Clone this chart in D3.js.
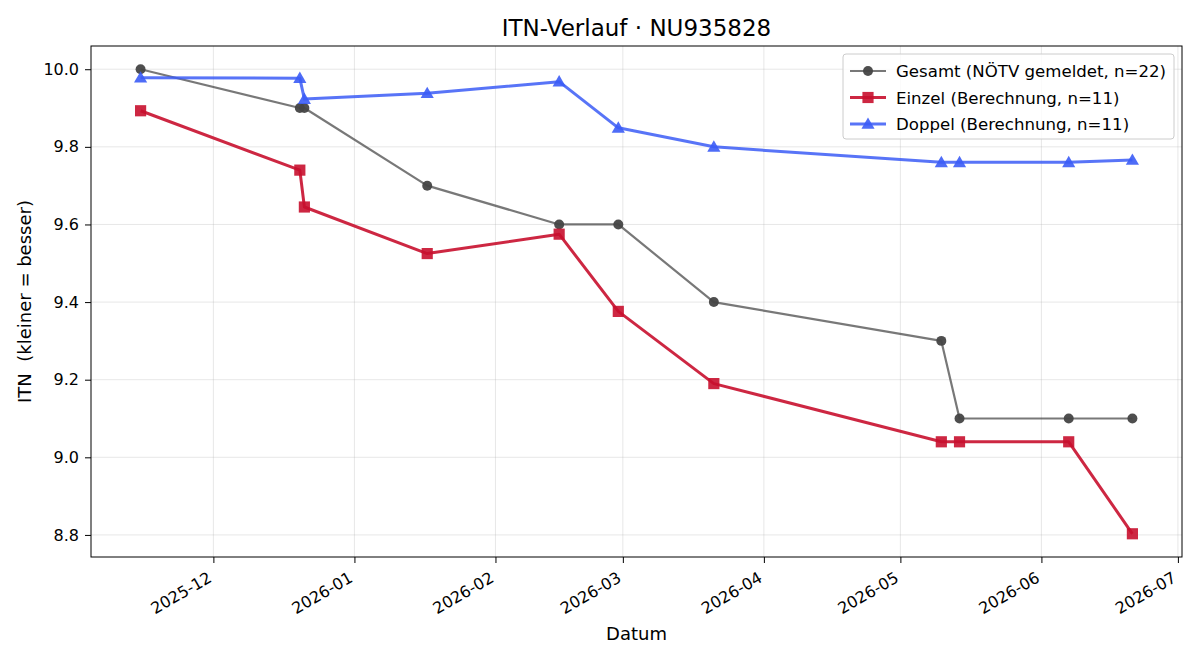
<!DOCTYPE html>
<html lang="de">
<head>
<meta charset="UTF-8">
<title>ITN-Verlauf</title>
<script src="https://d3js.org/d3.v7.min.js"></script>
<style>
    * { margin: 0; padding: 0; box-sizing: border-box; }
    body { background: #fff; font-family: "DejaVu Sans", sans-serif; }
    svg text { font-family: "DejaVu Sans", sans-serif; fill: #000; }
</style>
</head>
<body>
<div id="chart"></div>
<script>
    // Daten
    const dates = ["2025-11-15", "2025-12-20", "2025-12-21", "2026-01-17", "2026-02-15",
        "2026-02-28", "2026-03-21", "2026-05-10", "2026-05-14", "2026-06-07", "2026-06-21"];
    const gesamt = [10.0, 9.9, 9.9, 9.7, 9.6, 9.6, 9.4, 9.3, 9.1, 9.1, 9.1];
    const einzel = [9.893, 9.74, 9.645, 9.525, 9.575, 9.376, 9.19, 9.04, 9.04, 9.04, 8.803];
    const doppel = [9.978, 9.977, 9.923, 9.938, 9.968, 9.849, 9.80, 9.76, 9.76, 9.76, 9.766];
    const yTicks = [8.8, 9.0, 9.2, 9.4, 9.6, 9.8, 10.0];
    const xTicks = ["2025-12-01", "2026-01-01", "2026-02-01", "2026-03-01", "2026-04-01",
        "2026-05-01", "2026-06-01", "2026-07-01"];

    const series = [
        { name: "Gesamt (NÖTV gemeldet, n=22)", values: gesamt, line: "#444", lineOpacity: 0.72, lw: 2.2, marker: "circle", mColor: "#444", mOpacity: 0.95 },
        { name: "Einzel (Berechnung, n=11)", values: einzel, line: "#c8102e", lineOpacity: 0.9, lw: 3, marker: "square", mColor: "#c8102e", mOpacity: 0.9 },
        { name: "Doppel (Berechnung, n=11)", values: doppel, line: "#3b5cf6", lineOpacity: 0.85, lw: 3, marker: "triangle", mColor: "#3b5cf6", mOpacity: 0.9 }
    ];

    const W = 1200, H = 660;
    const margin = { top: 46, right: 18, bottom: 103, left: 91 };
    const iw = W - margin.left - margin.right;
    const ih = H - margin.top - margin.bottom;

    const parse = d3.utcParse("%Y-%m-%d");
    const xDates = dates.map(parse);

    // matplotlib-artige 5% Ränder
    const xExt = d3.extent(xDates);
    const xPad = (xExt[1] - xExt[0]) * 0.05;
    const x = d3.scaleUtc()
        .domain([new Date(+xExt[0] - xPad), new Date(+xExt[1] + xPad)])
        .range([0, iw]);

    const allY = gesamt.concat(einzel, doppel);
    const yExt = d3.extent(allY);
    const yPad = (yExt[1] - yExt[0]) * 0.05;
    const y = d3.scaleLinear().domain([yExt[0] - yPad, yExt[1] + yPad]).range([ih, 0]);

    const svg = d3.select("#chart").append("svg")
        .attr("width", W).attr("height", H);

    const g = svg.append("g").attr("transform", `translate(${margin.left},${margin.top})`);

    // Gitter
    g.append("g").selectAll("line").data(xTicks.map(parse)).join("line")
        .attr("x1", d => x(d)).attr("x2", d => x(d))
        .attr("y1", 0).attr("y2", ih)
        .attr("stroke", "#b0b0b0").attr("stroke-opacity", 0.3).attr("stroke-width", 1);
    g.append("g").selectAll("line").data(yTicks).join("line")
        .attr("x1", 0).attr("x2", iw)
        .attr("y1", d => y(d)).attr("y2", d => y(d))
        .attr("stroke", "#b0b0b0").attr("stroke-opacity", 0.3).attr("stroke-width", 1);

    // Achsen
    const xAxis = g.append("g").attr("transform", `translate(0,${ih})`)
        .call(d3.axisBottom(x).tickValues(xTicks.map(parse)).tickFormat(d3.utcFormat("%Y-%m")).tickSize(6).tickPadding(4));
    xAxis.select(".domain").remove();
    xAxis.selectAll("line").attr("stroke", "#000").attr("stroke-width", 1);
    xAxis.selectAll("text")
        .attr("font-size", "16px")
        .attr("text-anchor", "end")
        .attr("dy", "0")
        .attr("y", 0)
        .attr("transform", "translate(-1,24) rotate(-30)");

    const yAxis = g.append("g")
        .call(d3.axisLeft(y).tickValues(yTicks).tickFormat(d3.format(".1f")).tickSize(6).tickPadding(6));
    yAxis.select(".domain").remove();
    yAxis.selectAll("line").attr("stroke", "#000").attr("stroke-width", 1);
    yAxis.selectAll("text").attr("font-size", "16px");

    // Linien + Marker
    const line = d3.line().x((d, i) => x(xDates[i])).y(d => y(d));
    const sym = { circle: d3.symbolCircle, square: d3.symbolSquare, triangle: d3.symbolTriangle };
    const symSize = { circle: 78, square: 125, triangle: 75 };

    series.forEach(s => {
        g.append("path").datum(s.values)
            .attr("fill", "none")
            .attr("stroke", s.line).attr("stroke-opacity", s.lineOpacity)
            .attr("stroke-width", s.lw).attr("stroke-linejoin", "round")
            .attr("d", line);
        g.append("g").selectAll("path").data(s.values).join("path")
            .attr("transform", (d, i) => `translate(${x(xDates[i])},${y(d) + (s.marker === "triangle" ? 1 : 0)})`)
            .attr("d", d3.symbol().type(sym[s.marker]).size(symSize[s.marker]))
            .attr("fill", s.mColor).attr("fill-opacity", s.mOpacity);
    });

    // Rahmen
    g.append("rect").attr("width", iw).attr("height", ih)
        .attr("fill", "none").attr("stroke", "#000").attr("stroke-width", 1);

    // Titel und Achsenbeschriftung
    svg.append("text").attr("x", margin.left + iw / 2).attr("y", 36)
        .attr("text-anchor", "middle").attr("font-size", "23px")
        .text("ITN-Verlauf · NU935828");
    svg.append("text").attr("x", margin.left + iw / 2).attr("y", 640)
        .attr("text-anchor", "middle").attr("font-size", "18px")
        .text("Datum");
    svg.append("text")
        .attr("transform", `translate(31,${margin.top + ih / 2}) rotate(-90)`)
        .attr("text-anchor", "middle").attr("font-size", "18px")
        .style("white-space", "pre")
        .text("ITN  (kleiner = besser)");

    // Legende
    const leg = svg.append("g").attr("transform", "translate(843,54)");
    leg.append("rect").attr("width", 331).attr("height", 85).attr("rx", 3)
        .attr("fill", "#fff").attr("fill-opacity", 0.8)
        .attr("stroke", "#ccc").attr("stroke-width", 1);
    series.forEach((s, i) => {
        const ly = 17 + i * 26.5;
        leg.append("line").attr("x1", 7).attr("x2", 43).attr("y1", ly).attr("y2", ly)
            .attr("stroke", s.line).attr("stroke-opacity", s.lineOpacity).attr("stroke-width", s.lw);
        leg.append("path")
            .attr("transform", `translate(25,${ly + (s.marker === "triangle" ? 1 : 0)})`)
            .attr("d", d3.symbol().type(sym[s.marker]).size(symSize[s.marker]))
            .attr("fill", s.mColor).attr("fill-opacity", s.mOpacity);
        leg.append("text").attr("x", 53).attr("y", ly + 6)
            .attr("font-size", "16.6px").text(s.name);
    });
</script>
</body>
</html>
